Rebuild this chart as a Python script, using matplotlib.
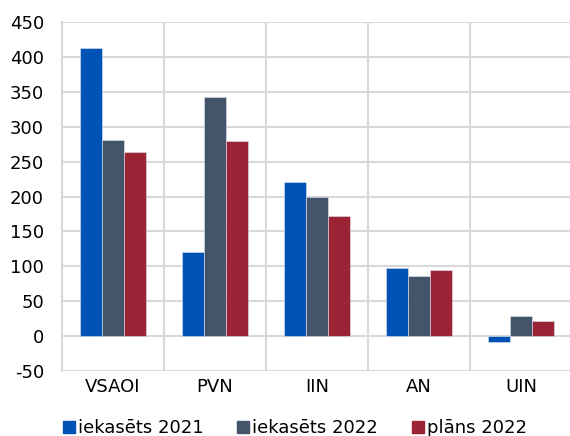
import numpy as np
import matplotlib
matplotlib.use('Agg')
import matplotlib.pyplot as plt
from matplotlib.lines import Line2D

categories = ['VSAOI', 'PVN', 'IIN', 'AN', 'UIN']
iekasets_2021 = [413, 121, 221, 98, -8]
iekasets_2022 = [281, 342, 200, 86, 29]
plans_2022 = [264, 279, 172, 94, 21]
series_names = ['iekasēts 2021', 'iekasēts 2022', 'plāns 2022']
colors = ['#0052B4', '#44546A', '#9B2335']

plt.rcParams['font.family'] = ['DejaVu Sans']
plt.rcParams['axes.unicode_minus'] = False

fig = plt.figure(figsize=(5.70, 4.36), dpi=100)
ax = fig.add_axes([62 / 570, 65 / 436, 1 - 62 / 570, (371 - 22) / 436])

x = np.arange(len(categories))
w = 0.218
for i, (vals, c) in enumerate(zip([iekasets_2021, iekasets_2022, plans_2022], colors)):
    ax.bar(x + (i - 1) * w, vals, width=w, color=c, edgecolor='#DDE6F0',
           linewidth=0.4, zorder=3)

ax.set_ylim(-50, 450)
ax.set_yticks(range(-50, 451, 50))
ax.set_xlim(-0.5, 4.48)
ax.set_xticks(x)
ax.set_xticklabels(categories)
ax.set_xticks(np.arange(0.5, 4.5, 1), minor=True)

ax.grid(axis='y', color='#D9D9D9', linewidth=1.5, zorder=0)
ax.grid(axis='x', which='minor', color='#D9D9D9', linewidth=1.5, zorder=0)
for s in ['top', 'right', 'bottom']:
    ax.spines[s].set_visible(False)
ax.spines['left'].set_color('#D9D9D9')
ax.spines['left'].set_linewidth(1.5)
ax.tick_params(axis='both', which='both', length=0, labelsize=13, colors='#000000')
ax.tick_params(axis='x', pad=5)
ax.tick_params(axis='y', pad=13)

handles = [Line2D([], [], marker='s', linestyle='none', markersize=8,
                  markerfacecolor=c, markeredgecolor=c) for c in colors]
fig.legend(handles, series_names, loc='lower center', bbox_to_anchor=(0.516, -0.04),
           ncol=3, frameon=False, fontsize=13, handletextpad=0.1,
           columnspacing=1.8, handlelength=0.8)

fig.savefig('out.png', dpi=100)
